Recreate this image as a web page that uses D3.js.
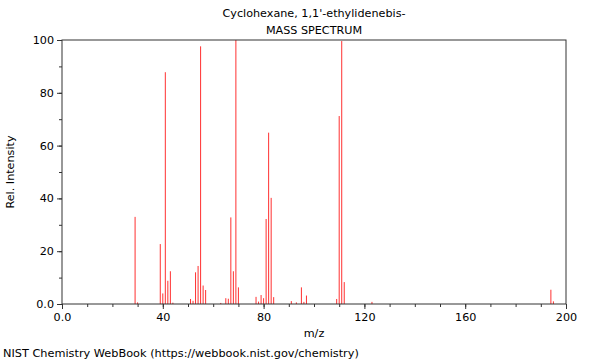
<!DOCTYPE html>
<html>
<head>
<meta charset="utf-8">
<script src="https://d3js.org/d3.v7.min.js"></script>
<style>
  body { margin: 0; background: #fff; }
  text { font-family: "DejaVu Sans", sans-serif; fill: #000; }
</style>
</head>
<body>
<script>
// peaks: m/z and relative intensity
var mz = [29, 30, 39, 40, 41, 42, 43, 44, 51, 52, 53, 54, 55, 56, 57, 63, 65, 66, 67, 68, 69, 70,
          77, 78, 79, 80, 81, 82, 83, 84, 91, 93, 95, 96, 97, 109, 110, 111, 112, 123, 194, 195]
var intensity = [33, 0.6, 22.7, 4, 87.8, 8.8, 12.4, 0.5, 1.9, 1.2, 12, 14.4, 97.6, 7, 5.3, 0.4, 2.2, 2, 32.8, 12.4, 100, 6.3,
                 2.7, 0.9, 3.4, 2.2, 32.2, 64.9, 40.2, 2.6, 1.1, 0.6, 6.3, 0.8, 3.2, 1.9, 71.2, 99.6, 8.3, 0.8, 5.4, 1.0]
var xTicks = [0, 40, 80, 120, 160, 200]
var yTicks = [0, 20, 40, 60, 80, 100]

var width = 600, height = 360
var plotL = 62, plotR = 566, plotT = 40, plotB = 304

var svg = d3.select('body').append('svg')
  .attr('width', width).attr('height', height)

var x = d3.scaleLinear().domain([0, 200]).range([plotL, plotR])
var y = d3.scaleLinear().domain([0, 100]).range([plotB, plotT])

// peaks
svg.append('g').selectAll('line')
  .data(mz)
  .enter().append('line')
  .attr('x1', function(d) { return x(d) })
  .attr('x2', function(d) { return x(d) })
  .attr('y1', y(0))
  .attr('y2', function(d, i) { return y(intensity[i]) })
  .attr('stroke', '#ff3030')
  .attr('stroke-width', 1)

// minor ticks
svg.append('g').attr('transform', 'translate(0,' + plotB + ')')
  .call(d3.axisBottom(x).tickValues(d3.range(0, 201, 10)).tickSize(3).tickFormat(''))
svg.append('g').attr('transform', 'translate(' + plotL + ',0)')
  .call(d3.axisLeft(y).tickValues(d3.range(0, 101, 10)).tickSize(3).tickFormat(''))

// major ticks
svg.append('g').attr('transform', 'translate(0,' + plotB + ')')
  .call(d3.axisBottom(x).tickValues(xTicks).tickSize(5).tickPadding(4)
    .tickFormat(function(d) { return d === 0 ? '0.0' : d }))
svg.append('g').attr('transform', 'translate(' + plotL + ',0)')
  .call(d3.axisLeft(y).tickValues(yTicks).tickSize(5).tickPadding(3)
    .tickFormat(function(d) { return d === 0 ? '0.0' : d }))
svg.selectAll('.domain').remove()
svg.selectAll('.tick line').attr('stroke', '#333')
svg.selectAll('.tick text').style('font-size', '11.2px').style('font-family', '"DejaVu Sans", sans-serif')

// frame
svg.append('rect')
  .attr('x', plotL).attr('y', plotT)
  .attr('width', plotR - plotL).attr('height', plotB - plotT)
  .attr('fill', 'none').attr('stroke', '#333').attr('stroke-width', 1)

// titles
svg.append('text').attr('x', (plotL + plotR) / 2).attr('y', 17)
  .attr('text-anchor', 'middle').style('font-size', '11.2px')
  .text("Cyclohexane, 1,1'-ethylidenebis-")
svg.append('text').attr('x', (plotL + plotR) / 2).attr('y', 34)
  .attr('text-anchor', 'middle').style('font-size', '11.2px')
  .text('MASS SPECTRUM')
svg.append('text').attr('x', (plotL + plotR) / 2).attr('y', 337)
  .attr('text-anchor', 'middle').style('font-size', '11.2px')
  .text('m/z')
svg.append('text')
  .attr('transform', 'translate(14,' + ((plotT + plotB) / 2) + ') rotate(-90)')
  .attr('text-anchor', 'middle').style('font-size', '11.2px')
  .text('Rel. Intensity')
svg.append('text').attr('x', 3).attr('y', 357)
  .style('font-size', '11.3px')
  .text('NIST Chemistry WebBook (https://webbook.nist.gov/chemistry)')
</script>
</body>
</html>
